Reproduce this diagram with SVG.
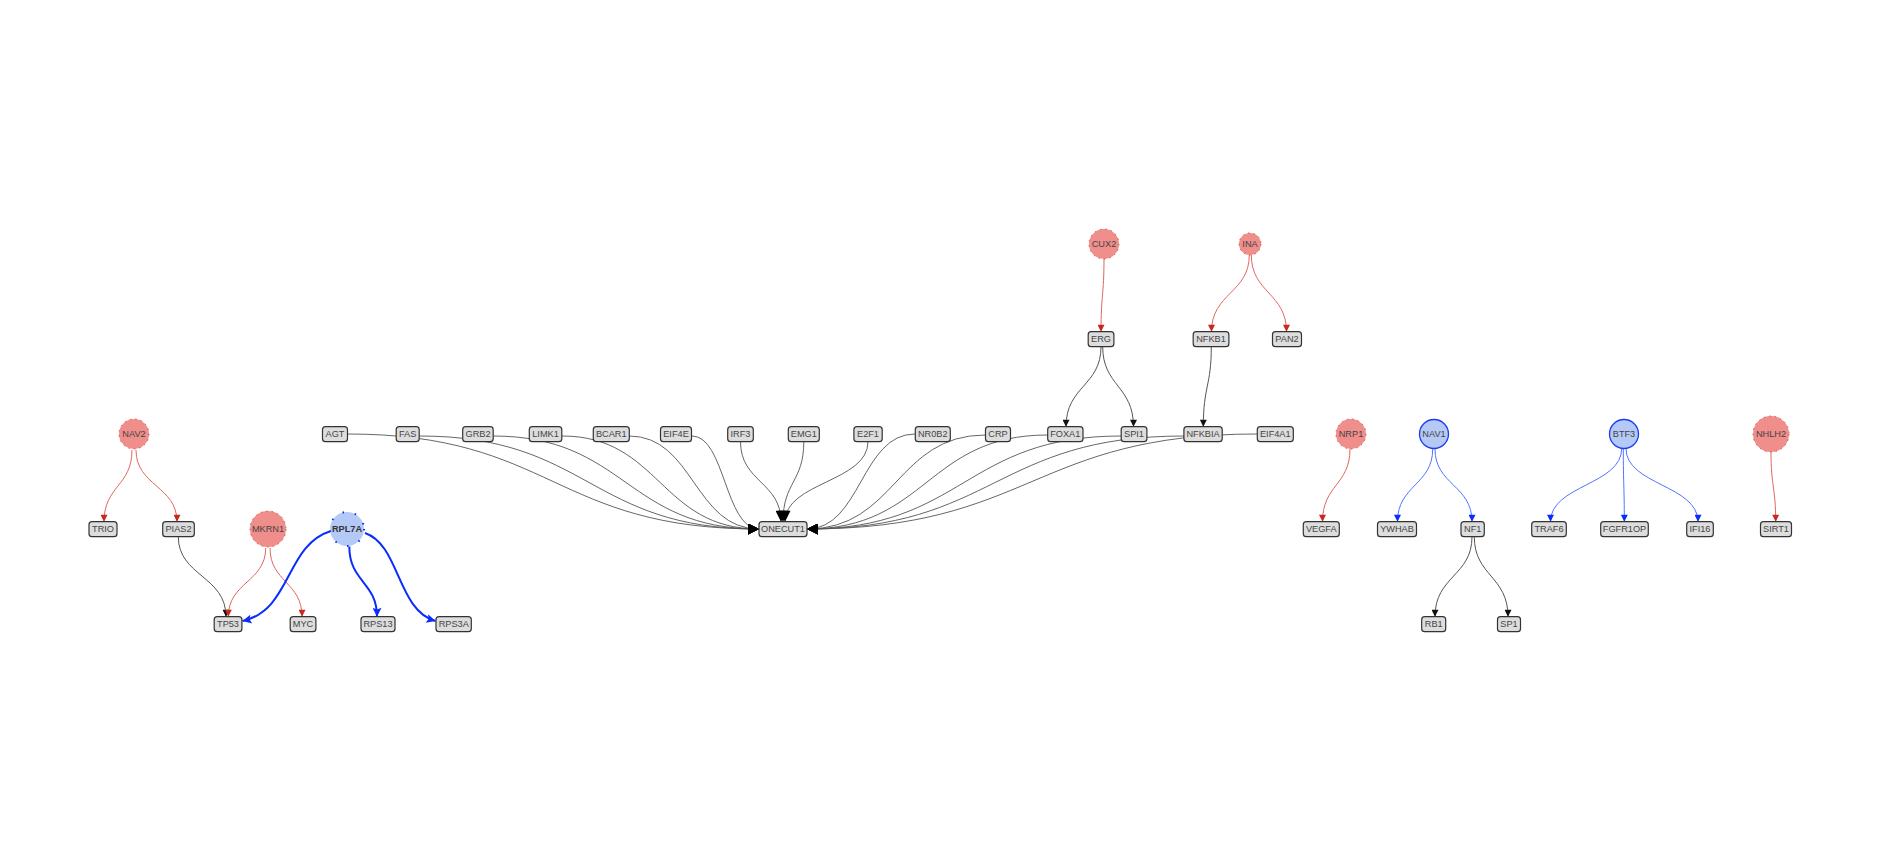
<svg xmlns="http://www.w3.org/2000/svg" width="1881" height="865" viewBox="0 0 1881 865">
<style>
.box rect{fill:#dddddd;stroke:#333;stroke-width:1.2}
text{font-family:"Liberation Sans",Arial,sans-serif;font-size:9.2px;fill:#444;text-anchor:middle;dominant-baseline:central}
.red circle{fill:#f08e8b;stroke:#cf4a44;stroke-width:0.9;stroke-dasharray:1.5 4}
.blue circle{fill:#b5c9f6;stroke:#1a3cf5;stroke-width:1.3}
.dot circle{fill:#b5c9f6;stroke:#0a2cff;stroke-width:2;stroke-dasharray:1.5 11}
.bold{font-weight:bold;fill:#333}
#edges path{fill:none}
.er{stroke:#e0675f;stroke-width:1;marker-end:url(#aR)}
.ek{stroke:#555;stroke-width:1;marker-end:url(#aK)}
.eb{stroke:#5274ff;stroke-width:1;marker-end:url(#aB)}
.eB{stroke:#0a2cff;stroke-width:2;marker-end:url(#aBB)}
.eo{stroke:#555;stroke-width:0.9;marker-end:url(#aBig)}
</style>
<defs>
<marker id="aR" markerUnits="userSpaceOnUse" viewBox="0 0 10 10" refX="10" refY="5" markerWidth="10" markerHeight="7" orient="auto"><path d="M0,0 L10,5 L0,10 z" fill="#c8281e"/></marker>
<marker id="aK" markerUnits="userSpaceOnUse" viewBox="0 0 10 10" refX="10" refY="5" markerWidth="10" markerHeight="7" orient="auto"><path d="M0,0 L10,5 L0,10 z" fill="#111"/></marker>
<marker id="aB" markerUnits="userSpaceOnUse" viewBox="0 0 10 10" refX="10" refY="5" markerWidth="10" markerHeight="7" orient="auto"><path d="M0,0 L10,5 L0,10 z" fill="#0a2cff"/></marker>
<marker id="aBB" markerUnits="userSpaceOnUse" viewBox="0 0 10 10" refX="10" refY="5" markerWidth="12" markerHeight="9" orient="auto"><path d="M0,0 L10,5 L0,10 L2,5 z" fill="#0a2cff"/></marker>
<marker id="aBig" markerUnits="userSpaceOnUse" viewBox="0 0 10 10" refX="10" refY="5" markerWidth="13" markerHeight="11" orient="auto"><path d="M0,0 L10,5 L0,10 z" fill="#000"/></marker>
</defs>
<rect width="1881" height="865" fill="#fff"/>
<g id="edges">
<path class="er" d="M132,450 C132,486 104,486 104,521.7"/>
<path class="er" d="M136,450 C136,486 177,486 177,521.7"/>
<path class="ek" d="M178.3,536.7 C178.3,576 226,576 226,616.7"/>
<path class="er" d="M265.7,548 C265.7,582 228.3,582 228.3,616.7"/>
<path class="er" d="M270,548 C270,582 302,582 302,616.7"/>
<path class="eB" d="M331,531 C285,545 292,610 242.5,621"/>
<path class="eB" d="M349.3,546.5 C349.3,582 377,582 377,616.7"/>
<path class="eB" d="M365,533 C400,545 397,610 435.5,621"/>
<path class="er" d="M1104,259 C1104,295 1101,295 1101,331.7"/>
<path class="er" d="M1249.3,255 C1249.3,293 1211.5,293 1211.5,331.7"/>
<path class="er" d="M1251.3,255 C1251.3,293 1286.5,293 1286.5,331.7"/>
<path class="ek" d="M1101,346.7 C1101,386 1066,386 1066,426.7"/>
<path class="ek" d="M1102.7,346.7 C1102.7,386 1133.5,386 1133.5,426.7"/>
<path class="ek" d="M1211.3,346.7 C1211.3,386 1203.3,386 1203.3,426.7"/>
<path class="er" d="M1350,449 C1350,485 1322.5,485 1322.5,521.7"/>
<path class="eb" d="M1432.7,449 C1432.7,485 1397.5,485 1397.5,521.7"/>
<path class="eb" d="M1435,449 C1435,485 1472,485 1472,521.7"/>
<path class="ek" d="M1472,536.7 C1472,576 1435,576 1435,616.7"/>
<path class="ek" d="M1474.3,536.7 C1474.3,576 1508,576 1508,616.7"/>
<path class="eb" d="M1621.7,448.5 C1621.7,485 1550.5,485 1550.5,521.7"/>
<path class="eb" d="M1623.3,448.5 C1623.3,485 1624.3,485 1624.3,521.7"/>
<path class="eb" d="M1626,448.5 C1626,485 1698,485 1698,521.7"/>
<path class="er" d="M1771,452 C1771,487 1775.7,487 1775.7,521.7"/>
<path class="eo" d="M347.5,434 C553,434 553,529 759,529"/>
<path class="eo" d="M419.5,436 C589,436 589,529 759,529"/>
<path class="eo" d="M493,436 C626,436 626,529 759,529"/>
<path class="eo" d="M562,436 C660,436 660,529 759,529"/>
<path class="eo" d="M629,436 C694,436 694,529 759,529"/>
<path class="eo" d="M692,436 C725,436 725,529 759,529"/>
<path class="eo" d="M740.5,441.7 C740.5,482 781,482 781,521.7"/>
<path class="eo" d="M803.8,441.7 C803.8,482 783,482 783,521.7"/>
<path class="eo" d="M868,441.7 C868,482 785,482 785,521.7"/>
<path class="eo" d="M915,434 C861,434 861,529 807,529"/>
<path class="eo" d="M985.5,435 C896,435 896,529 807,529"/>
<path class="eo" d="M1047.5,435 C927,435 927,529 807,529"/>
<path class="eo" d="M1121,436 C964,436 964,529 807,529"/>
<path class="eo" d="M1184,436 C995,436 995,529 807,529"/>
<path class="eo" d="M1257,434 C1032,434 1032,529 807,529"/>
</g>
<g id="NAV2" class="red"><circle cx="134" cy="434" r="15"/><text x="134" y="434">NAV2</text></g>
<g id="MKRN1" class="red"><circle cx="268" cy="529" r="18"/><text x="268" y="529">MKRN1</text></g>
<g id="RPL7A" class="dot"><circle cx="347" cy="529" r="17"/><text class="bold" x="347" y="529">RPL7A</text></g>
<g id="CUX2" class="red"><circle cx="1104" cy="244" r="15"/><text x="1104" y="244">CUX2</text></g>
<g id="INA" class="red"><circle cx="1250" cy="244" r="11"/><text x="1250" y="244">INA</text></g>
<g id="NRP1" class="red"><circle cx="1351" cy="434" r="15"/><text x="1351" y="434">NRP1</text></g>
<g id="NAV1" class="blue"><circle cx="1434" cy="434" r="14.5"/><text x="1434" y="434">NAV1</text></g>
<g id="BTF3" class="blue"><circle cx="1624" cy="434" r="14.5"/><text x="1624" y="434">BTF3</text></g>
<g id="NHLH2" class="red"><circle cx="1771" cy="434" r="18"/><text x="1771" y="434">NHLH2</text></g>
<g id="AGT" class="box"><rect x="322.5" y="426.7" width="25" height="15" rx="3"/><text x="335" y="434.2">AGT</text></g>
<g id="FAS" class="box"><rect x="396.2" y="426.7" width="23" height="15" rx="3"/><text x="407.7" y="434.2">FAS</text></g>
<g id="GRB2" class="box"><rect x="462.7" y="426.7" width="30.5" height="15" rx="3"/><text x="478" y="434.2">GRB2</text></g>
<g id="LIMK1" class="box"><rect x="529.3" y="426.7" width="32.5" height="15" rx="3"/><text x="545.5" y="434.2">LIMK1</text></g>
<g id="BCAR1" class="box"><rect x="593.3" y="426.7" width="36" height="15" rx="3"/><text x="611.3" y="434.2">BCAR1</text></g>
<g id="EIF4E" class="box"><rect x="660.5" y="426.7" width="31" height="15" rx="3"/><text x="676" y="434.2">EIF4E</text></g>
<g id="IRF3" class="box"><rect x="727.7" y="426.7" width="25.6" height="15" rx="3"/><text x="740.5" y="434.2">IRF3</text></g>
<g id="EMG1" class="box"><rect x="788.3" y="426.7" width="31" height="15" rx="3"/><text x="803.8" y="434.2">EMG1</text></g>
<g id="E2F1" class="box"><rect x="853.9" y="426.7" width="28.3" height="15" rx="3"/><text x="868" y="434.2">E2F1</text></g>
<g id="NR0B2" class="box"><rect x="915.3" y="426.7" width="35" height="15" rx="3"/><text x="932.8" y="434.2">NR0B2</text></g>
<g id="CRP" class="box"><rect x="985.5" y="426.7" width="25" height="15" rx="3"/><text x="998" y="434.2">CRP</text></g>
<g id="FOXA1" class="box"><rect x="1047.7" y="426.7" width="35.3" height="15" rx="3"/><text x="1065.3" y="434.2">FOXA1</text></g>
<g id="SPI1" class="box"><rect x="1121.2" y="426.7" width="25.7" height="15" rx="3"/><text x="1134" y="434.2">SPI1</text></g>
<g id="NFKBIA" class="box"><rect x="1183.9" y="426.7" width="38.3" height="15" rx="3"/><text x="1203" y="434.2">NFKBIA</text></g>
<g id="EIF4A1" class="box"><rect x="1257.3" y="426.7" width="36" height="15" rx="3"/><text x="1275.3" y="434.2">EIF4A1</text></g>
<g id="ERG" class="box"><rect x="1088.2" y="331.7" width="25.7" height="15" rx="3"/><text x="1101" y="339.2">ERG</text></g>
<g id="NFKB1" class="box"><rect x="1193.2" y="331.7" width="35.7" height="15" rx="3"/><text x="1211" y="339.2">NFKB1</text></g>
<g id="PAN2" class="box"><rect x="1272.5" y="331.7" width="29" height="15" rx="3"/><text x="1287" y="339.2">PAN2</text></g>
<g id="TRIO" class="box"><rect x="89" y="521.7" width="28" height="15" rx="3"/><text x="103" y="529.2">TRIO</text></g>
<g id="PIAS2" class="box"><rect x="162.7" y="521.7" width="31.6" height="15" rx="3"/><text x="178.5" y="529.2">PIAS2</text></g>
<g id="ONECUT1" class="box"><rect x="759" y="521.7" width="48" height="15" rx="3"/><text x="783" y="529.2">ONECUT1</text></g>
<g id="VEGFA" class="box"><rect x="1303.3" y="521.7" width="36" height="15" rx="3"/><text x="1321.3" y="529.2">VEGFA</text></g>
<g id="YWHAB" class="box"><rect x="1377.5" y="521.7" width="39" height="15" rx="3"/><text x="1397" y="529.2">YWHAB</text></g>
<g id="NF1" class="box"><rect x="1461" y="521.7" width="23.3" height="15" rx="3"/><text x="1472.7" y="529.2">NF1</text></g>
<g id="TRAF6" class="box"><rect x="1531.7" y="521.7" width="34.6" height="15" rx="3"/><text x="1549" y="529.2">TRAF6</text></g>
<g id="FGFR1OP" class="box"><rect x="1600.7" y="521.7" width="47.6" height="15" rx="3"/><text x="1624.5" y="529.2">FGFR1OP</text></g>
<g id="IFI16" class="box"><rect x="1686.7" y="521.7" width="26.6" height="15" rx="3"/><text x="1700" y="529.2">IFI16</text></g>
<g id="SIRT1" class="box"><rect x="1760.5" y="521.7" width="31" height="15" rx="3"/><text x="1776" y="529.2">SIRT1</text></g>
<g id="TP53" class="box"><rect x="214.2" y="616.7" width="27.7" height="15" rx="3"/><text x="228" y="624.2">TP53</text></g>
<g id="MYC" class="box"><rect x="290.2" y="616.7" width="25.7" height="15" rx="3"/><text x="303" y="624.2">MYC</text></g>
<g id="RPS13" class="box"><rect x="361" y="616.7" width="34" height="15" rx="3"/><text x="378" y="624.2">RPS13</text></g>
<g id="RPS3A" class="box"><rect x="436" y="616.7" width="35.3" height="15" rx="3"/><text x="453.7" y="624.2">RPS3A</text></g>
<g id="RB1" class="box"><rect x="1421.7" y="616.7" width="24" height="15" rx="3"/><text x="1433.7" y="624.2">RB1</text></g>
<g id="SP1" class="box"><rect x="1497.5" y="616.7" width="23" height="15" rx="3"/><text x="1509" y="624.2">SP1</text></g>
</svg>
